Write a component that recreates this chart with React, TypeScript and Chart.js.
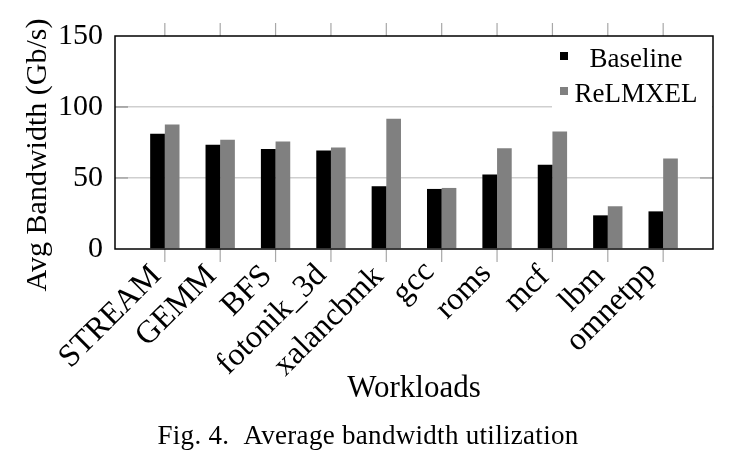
import React, { useEffect, useRef } from 'react';
import { Chart, registerables } from 'chart.js';

Chart.register(...registerables);

const categories = ['STREAM', 'GEMM', 'BFS', 'fotonik_3d', 'xalancbmk', 'gcc', 'roms', 'mcf', 'lbm', 'omnetpp'];
const baselineValues = [81.1, 73.4, 70.5, 69.3, 44.2, 42.3, 52.4, 59.3, 23.7, 26.5];
const relmxelValues = [87.7, 76.9, 75.7, 71.5, 91.7, 43.0, 71.0, 82.7, 30.1, 63.7];
const yTickValues = [0, 50, 100, 150];
const seriesNames = ['Baseline', 'ReLMXEL'];
const seriesColors = ['#000000', '#808080'];
const yTitle = 'Avg Bandwidth (Gb/s)';
const xTitle = 'Workloads';
const caption = 'Fig. 4.  Average bandwidth utilization';

const SERIF = '"Liberation Serif", "Times New Roman", serif';

export default function App() {
  const ref = useRef<HTMLCanvasElement>(null);

  useEffect(() => {
    const canvas = ref.current as HTMLCanvasElement;

    const decor = {
      id: 'decor',
      afterDraw(chart: any) {
        const { ctx, chartArea: a } = chart;
        const xs = chart.scales.x;
        const ys = chart.scales.y;
        ctx.save();

        // legend box
        ctx.fillStyle = '#ffffff';
        ctx.fillRect(552, a.top + 1, a.right - 552 - 1, 76 - 1);
        ctx.font = `27px ${SERIF}`;
        ctx.textAlign = 'center';
        ctx.textBaseline = 'alphabetic';
        const legendBase = [66.5, 101.5];
        seriesNames.forEach((name, i) => {
          ctx.fillStyle = seriesColors[i];
          ctx.fillRect(560, legendBase[i] - 14.5, 8, 8);
          ctx.fillStyle = '#000';
          ctx.fillText(name, 636, legendBase[i]);
        });

        // y inner tick marks
        ctx.strokeStyle = '#8c8c8c';
        ctx.lineWidth = 1.2;
        [50, 100].forEach((v) => {
          const y = ys.getPixelForValue(v);
          ctx.beginPath();
          ctx.moveTo(a.left, y);
          ctx.lineTo(a.left + 13, y);
          if (v !== 100) {
            ctx.moveTo(a.right - 13, y);
            ctx.lineTo(a.right, y);
          }
          ctx.stroke();
        });

        // x outer tick marks
        ctx.strokeStyle = '#a8a8a8';
        ctx.lineWidth = 1.2;
        categories.forEach((_, i) => {
          const x = xs.getPixelForValue(i);
          ctx.beginPath();
          ctx.moveTo(x, a.top - 13);
          ctx.lineTo(x, a.top);
          ctx.moveTo(x, a.bottom);
          ctx.lineTo(x, a.bottom + 13);
          ctx.stroke();
        });

        // frame
        ctx.strokeStyle = '#000';
        ctx.lineWidth = 1.5;
        ctx.strokeRect(a.left, a.top, a.right - a.left, a.bottom - a.top);

        // x tick labels, rotated 45deg, anchored at their east (middle-right) point
        ctx.fillStyle = '#000';
        ctx.font = `32px ${SERIF}`;
        ctx.textAlign = 'right';
        ctx.textBaseline = 'alphabetic';
        categories.forEach((label, i) => {
          const x = xs.getPixelForValue(i) - 10;
          const y = a.bottom + 20.5;
          const m = ctx.measureText(label);
          const mid = (m.actualBoundingBoxAscent - m.actualBoundingBoxDescent) / 2;
          ctx.save();
          ctx.translate(x, y);
          ctx.rotate(-Math.PI / 4);
          ctx.fillText(label, 0, mid);
          ctx.restore();
        });

        // y title
        ctx.font = `30px ${SERIF}`;
        ctx.textAlign = 'center';
        ctx.textBaseline = 'alphabetic';
        ctx.save();
        ctx.translate(46, 155);
        ctx.rotate(-Math.PI / 2);
        ctx.fillText(yTitle, 0, 0);
        ctx.restore();

        // x title
        ctx.font = `31px ${SERIF}`;
        ctx.fillText(xTitle, (a.left + a.right) / 2, 397);

        // caption
        ctx.font = `27px ${SERIF}`;
        (ctx as any).letterSpacing = '0.3px';
        ctx.fillText(caption, 368, 444);
        (ctx as any).letterSpacing = '0px';

        ctx.restore();
      },
    };

    const chart = new Chart(canvas, {
      type: 'bar',
      data: {
        datasets: [
          {
            label: seriesNames[0],
            data: categories.map((_, i) => ({ x: i, y: baselineValues[i] })),
            backgroundColor: seriesColors[0],
            borderWidth: 0,
          },
          {
            label: seriesNames[1],
            data: categories.map((_, i) => ({ x: i, y: relmxelValues[i] })),
            backgroundColor: seriesColors[1],
            borderWidth: 0,
          },
        ],
      },
      options: {
        responsive: false,
        animation: false,
        devicePixelRatio: 1,
        categoryPercentage: 0.53,
        barPercentage: 1,
        layout: { padding: { left: 0, top: 36, right: 22, bottom: 0 } },
        plugins: {
          legend: { display: false },
          tooltip: { enabled: false },
          title: { display: false },
        },
        scales: {
          x: {
            type: 'linear',
            offset: false,
            min: -0.9,
            max: 9.9,
            grid: { display: false, drawTicks: false },
            border: { display: false },
            afterBuildTicks: (scale: any) => {
              scale.ticks = categories.map((_, i) => ({ value: i }));
            },
            afterFit: (scale: any) => {
              scale.height = 215;
            },
            ticks: { display: false },
          },
          y: {
            min: 0,
            max: 150,
            afterBuildTicks: (scale: any) => {
              scale.ticks = yTickValues.map((v) => ({ value: v }));
            },
            afterFit: (scale: any) => {
              scale.width = 115;
            },
            grid: {
              drawTicks: false,
              lineWidth: 1.5,
              color: (c: any) => (c.tick && (c.tick.value === 50 || c.tick.value === 100) ? '#cfcfcf' : 'rgba(0,0,0,0)'),
            },
            border: { display: false },
            ticks: {
              padding: 12,
              color: '#000',
              font: { family: SERIF, size: 30 },
            },
          },
        },
      },
      plugins: [decor],
    } as any);

    return () => chart.destroy();
  }, []);

  return (
    <div style={{ position: 'absolute', left: 0, top: 0, width: 735, height: 464, background: '#fff' }}>
      <canvas ref={ref} width={735} height={464} style={{ width: 735, height: 464, display: 'block' }} />
    </div>
  );
}
